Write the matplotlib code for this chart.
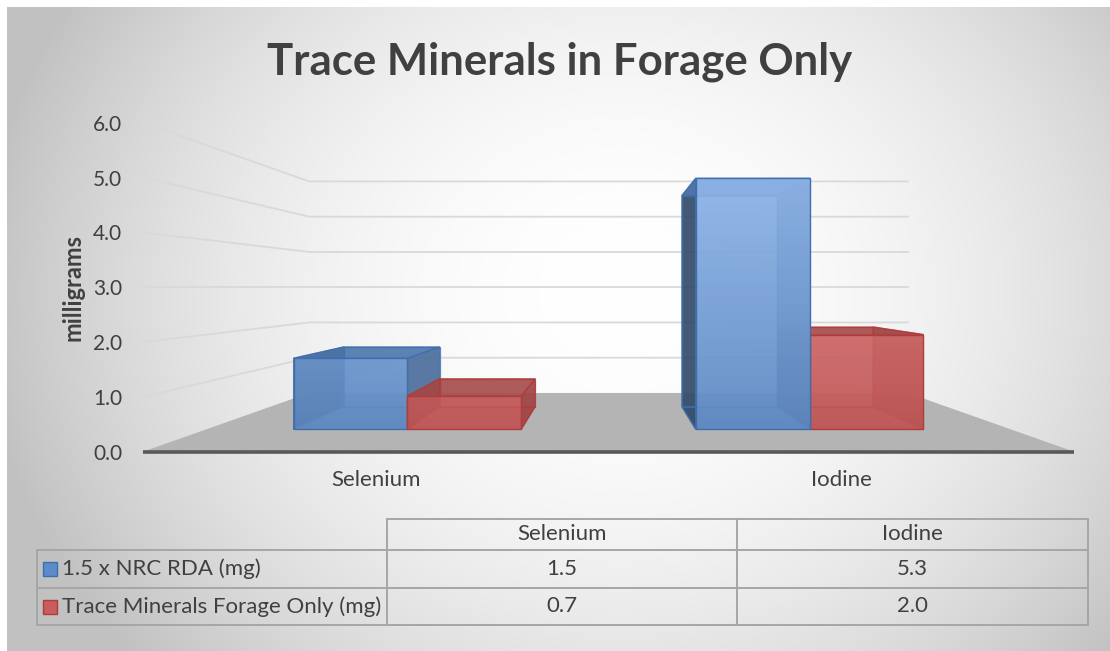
import numpy as np
import matplotlib.pyplot as plt
from matplotlib.patches import Polygon, Rectangle
from matplotlib.colors import to_rgb

categories = ["Selenium", "Iodine"]
series_names = ["1.5 x NRC RDA (mg)", "Trace Minerals Forage Only (mg)"]
rda_values = [1.5, 5.3]
forage_values = [0.7, 2.0]
y_ticks = [0, 1, 2, 3, 4, 5, 6]

W, H = 1110, 651
TEXT = '#404040'
plt.rcParams['font.family'] = ['Lato', 'DejaVu Sans']

# fake 3D: front plane = data coords, everything shrinks toward (0.5, 3.0)
VP_X, VP_Y = 0.5, 3.0
S_BACK = 0.643
S_BAR_FRONT = 0.864
S_BAR_BACK = 0.726
BAR_W = 0.283

# colours per series: front gradient (v=0 -> v=5.5), back, bottom, left, right, top, edge
styles = [
    dict(c0='#5e89c2', c1='#92b9ec', back='#6a95cc', bottom='#5a84bb',
         left='#2f4660', right='#4a6b98', top='#4e77ad', edge='#3f6ead', key='#5b8bc9'),
    dict(c0='#c05656', c1='#e48583', back='#c86262', bottom='#b85656',
         left='#8a3a3a', right='#9c4343', top='#a44d4d', edge='#b03c3c', key='#c95c5c'),
]


def proj(x, v, s):
    return VP_X + (x - VP_X) * s, VP_Y + (v - VP_Y) * s


fig = plt.figure(figsize=(W / 100, H / 100), dpi=100)

# background with radial shading
bg = fig.add_axes([0, 0, 1, 1], zorder=0)
bg.axis('off')
yy, xx = np.mgrid[7:H, 7:W]
r2 = ((xx - 620) / 640.0) ** 2 + ((yy - 290) / 560.0) ** 2
shade = 1.0 - 0.24 * np.clip(r2, 0, 1)
bg.imshow(np.dstack([shade] * 3), extent=[7, W, H, 7], aspect='auto',
          interpolation='bilinear', zorder=0)
bg.set_xlim(0, W)
bg.set_ylim(H, 0)

# main plot area (front plane)
ax = fig.add_axes([143 / W, 1 - 451.7 / H, 931 / W, 329 / H], zorder=1)
ax.patch.set_visible(False)
for sp in ax.spines.values():
    sp.set_visible(False)

# floor
floor = [(-0.5, 0), (1.5, 0), proj(1.5, 0, S_BACK), proj(-0.5, 0, S_BACK)]
ax.add_patch(Polygon(floor, closed=True, fc='#b4b4b4', ec='none', zorder=1))

# gridlines: left wall + back wall
for v in y_ticks[1:]:
    bl = proj(-0.5, v, S_BACK)
    br = proj(1.5, v, S_BACK)
    ax.plot([-0.5, bl[0], br[0]], [v, bl[1], br[1]], color='#d9d9d9',
            lw=1.3, zorder=0.5, clip_on=False)

ax.plot([-0.5, 1.5], [0, 0], color='#595959', lw=2.6, zorder=2,
        clip_on=False, solid_capstyle='butt')


def draw_box(x0, x1, v, st, z):
    sf, sb = S_BAR_FRONT, S_BAR_BACK
    F = [proj(x0, 0, sf), proj(x1, 0, sf), proj(x1, v, sf), proj(x0, v, sf)]
    B = [proj(x0, 0, sb), proj(x1, 0, sb), proj(x1, v, sb), proj(x0, v, sb)]
    faces = [
        (B, st['back'], 0.5),
        ([F[0], F[1], B[1], B[0]], st['bottom'], 0.6),
        ([F[0], F[3], B[3], B[0]], st['left'], 0.85),
        ([F[1], F[2], B[2], B[1]], st['right'], 0.85),
        ([F[3], F[2], B[2], B[3]], st['top'], 0.85),
    ]
    for pts, col, a in faces:
        ax.add_patch(Polygon(pts, closed=True, fc=col, alpha=a, ec='none', zorder=z))
        ax.add_patch(Polygon(pts, closed=True, fc='none', ec=st['edge'], lw=0.9,
                             alpha=0.8, zorder=z + 0.01))
    # front face with vertical gradient
    front = Polygon(F, closed=True, fc='none', ec=st['edge'], lw=1.0, zorder=z + 0.03)
    ax.add_patch(front)
    ya, yb = F[0][1], F[2][1]
    ys = np.linspace(ya, yb, 100)
    vs = VP_Y + (ys - VP_Y) / sf
    t = np.clip(vs / 5.5, 0, 1)[:, None]
    c0, c1 = np.array(to_rgb(st['c0'])), np.array(to_rgb(st['c1']))
    rgb = c0 * (1 - t) + c1 * t
    rgba = np.dstack([rgb[:, 0:1], rgb[:, 1:2], rgb[:, 2:3], np.full_like(t, 0.88)])
    im = ax.imshow(rgba, extent=[F[0][0], F[1][0], ya, yb], origin='lower',
                   aspect='auto', interpolation='bilinear', zorder=z + 0.02)
    im.set_clip_path(front)


boxes = []
for i in range(len(categories)):
    for j, vals in enumerate([rda_values, forage_values]):
        x0 = i - BAR_W + j * BAR_W
        boxes.append((x0, x0 + BAR_W, vals[i], styles[j]))
# paint the boxes farthest from the centre first
boxes.sort(key=lambda b: -abs((b[0] + b[1]) / 2 - VP_X))
for k, (x0, x1, v, st) in enumerate(boxes):
    draw_box(x0, x1, v, st, 3 + k * 0.1)

ax.set_xlim(-0.5, 1.5)
ax.set_ylim(0, 6)
ax.set_aspect('auto')
ax.set_yticks(y_ticks)
ax.set_yticklabels([f'{t:.1f}' for t in y_ticks])
ax.set_xticks(range(len(categories)))
ax.set_xticklabels(categories)
ax.tick_params(axis='y', length=0, pad=15, labelsize=15, labelcolor=TEXT)
ax.tick_params(axis='x', length=0, pad=13, labelsize=16, labelcolor=TEXT)
ax.text(-0.0752, 0.4976, 'milligrams', rotation=90, ha='center', va='center',
        transform=ax.transAxes, fontsize=17, fontweight='bold', color=TEXT)

fig.text(560 / W, 1 - 74 / H, 'Trace Minerals in Forage Only', ha='center',
         va='baseline', fontsize=31.5, fontweight='bold', color=TEXT)

# data table under the chart
cols = [37, 387, 737, 1088]
rows = [519, 550, 588, 625]
lc = '#a6a6a6'
bg.plot([cols[1], cols[3]], [rows[0], rows[0]], color=lc, lw=1.4)
for yv in rows[1:]:
    bg.plot([cols[0], cols[3]], [yv, yv], color=lc, lw=1.4)
bg.plot([cols[0], cols[0]], [rows[1], rows[3]], color=lc, lw=1.4)
for xv in cols[1:]:
    bg.plot([xv, xv], [rows[0], rows[3]], color=lc, lw=1.4)

for j, cat in enumerate(categories):
    bg.text((cols[j + 1] + cols[j + 2]) / 2, (rows[0] + rows[1]) / 2, cat,
            ha='center', va='center', fontsize=16, color=TEXT)
for i, (name, vals) in enumerate(zip(series_names, [rda_values, forage_values])):
    yc = (rows[i + 1] + rows[i + 2]) / 2
    bg.add_patch(Rectangle((43, yc - 7), 14, 14, fc=styles[i]['key'],
                           ec=styles[i]['edge'], lw=1))
    bg.text(62, yc, name, ha='left', va='center', fontsize=16, color=TEXT)
    for j, val in enumerate(vals):
        bg.text((cols[j + 1] + cols[j + 2]) / 2, yc, f'{val:.1f}',
                ha='center', va='center', fontsize=16, color=TEXT)

fig.savefig('out.png', dpi=100)
